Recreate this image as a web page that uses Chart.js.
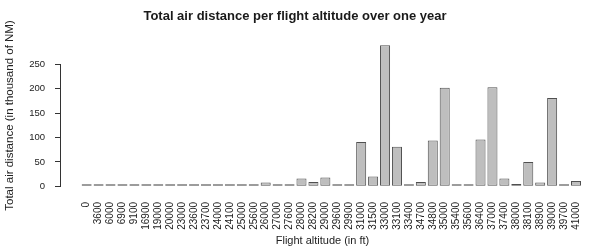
<!DOCTYPE html>
<html>
<head>
<meta charset="utf-8">
<script src="https://cdn.jsdelivr.net/npm/chart.js@4/dist/chart.umd.min.js"></script>
<style>
  html, body { margin: 0; padding: 0; background: #ffffff; }
  #wrap { width: 590px; height: 251px; }
</style>
</head>
<body>
<div id="wrap"><canvas id="c" width="590" height="251"></canvas></div>
<script>
// ---- data ----
const altitudes = ["0","3600","6000","6900","9100","16900","19000","20000","23000","23600",
  "23700","24000","24100","25000","25600","26000","27000","27600","28000","28200",
  "29000","29600","29900","31000","31500","33000","33100","33400","34700","34800",
  "35000","35400","35600","36400","37000","37400","38000","38100","38900","39000",
  "39700","41000"];
const distances = [1.2,1.2,1.2,1.2,1.2,1.2,1.2,1.2,3,1.2,
  1.2,4,1.2,1.2,2,8,1.2,1.2,16,9,
  18,1.2,1.2,91,20,289,81,1.2,9,94,
  202,1.2,1.2,96,203,16,5,50,8,181,
  4,11];
const yTicks = [0, 50, 100, 150, 200, 250];

const REG = "'Liberation Sans', Arial, sans-serif";

const points = distances.map((v, i) => ({ x: i, y: v }));

const axisLine = {
  id: 'axisLine',
  afterDraw(chart) {
    const ys = chart.scales.y;
    const ctx = chart.ctx;
    const x = Math.round(ys.right) - 0.5;
    ctx.save();
    ctx.strokeStyle = '#333333';
    ctx.lineWidth = 1;
    ctx.beginPath();
    ctx.moveTo(x, Math.round(ys.getPixelForValue(yTicks[0])) + 0.5);
    ctx.lineTo(x, Math.round(ys.getPixelForValue(yTicks[yTicks.length - 1])) + 0.5);
    ctx.stroke();
    ctx.restore();
  }
};

new Chart(document.getElementById('c'), {
  type: 'bar',
  data: {
    datasets: [{
      data: points,
      backgroundColor: '#bebebe',
      borderColor: '#505050',
      borderWidth: 1,
      borderSkipped: false,
      minBarLength: 2,
      barPercentage: 0.84,
      categoryPercentage: 1.0
    }]
  },
  options: {
    responsive: false,
    devicePixelRatio: 1,
    animation: false,
    layout: { padding: 0 },
    plugins: {
      legend: { display: false },
      tooltip: { enabled: false },
      title: {
        display: true,
        text: 'Total air distance per flight altitude over one year',
        color: '#1a1a1a',
        font: { family: REG, size: 13, weight: 'bold', lineHeight: 1.2 },
        padding: { top: 9, bottom: 14.4 }
      }
    },
    scales: {
      x: {
        type: 'linear',
        min: -2.15,
        max: 41.67,
        offset: false,
        grid: { display: false },
        border: { display: false },
        afterBuildTicks(scale) {
          scale.ticks = altitudes.map((_, i) => ({ value: i }));
        },
        afterFit(scale) { scale.height = 59; },
        ticks: {
          autoSkip: false,
          minRotation: 90,
          maxRotation: 90,
          padding: 2,
          color: '#222222',
          font: { family: REG, size: 10 },
          callback: (v) => altitudes[v] !== undefined ? altitudes[v] : ''
        },
        title: {
          display: true,
          text: 'Flight altitude (in ft)',
          color: '#222222',
          font: { family: REG, size: 11, lineHeight: 1.2 },
          padding: { top: 0, bottom: 3 }
        }
      },
      y: {
        min: -11.6,
        max: 301.6,
        afterBuildTicks(scale) {
          scale.ticks = yTicks.map(v => ({ value: v }));
        },
        afterFit(scale) { scale.width = 61; },
        grid: {
          display: true,
          drawOnChartArea: false,
          drawTicks: true,
          tickLength: 6,
          color: '#333333'
        },
        border: { display: false },
        ticks: {
          padding: 10,
          color: '#222222',
          font: { family: REG, size: 9.5 }
        },
        title: {
          display: true,
          text: 'Total air distance (in thousand of NM)',
          color: '#222222',
          font: { family: REG, size: 11.5, lineHeight: 1.2 },
          padding: { top: 3, bottom: 0 }
        }
      }
    }
  },
  plugins: [axisLine]
});
</script>
</body>
</html>
